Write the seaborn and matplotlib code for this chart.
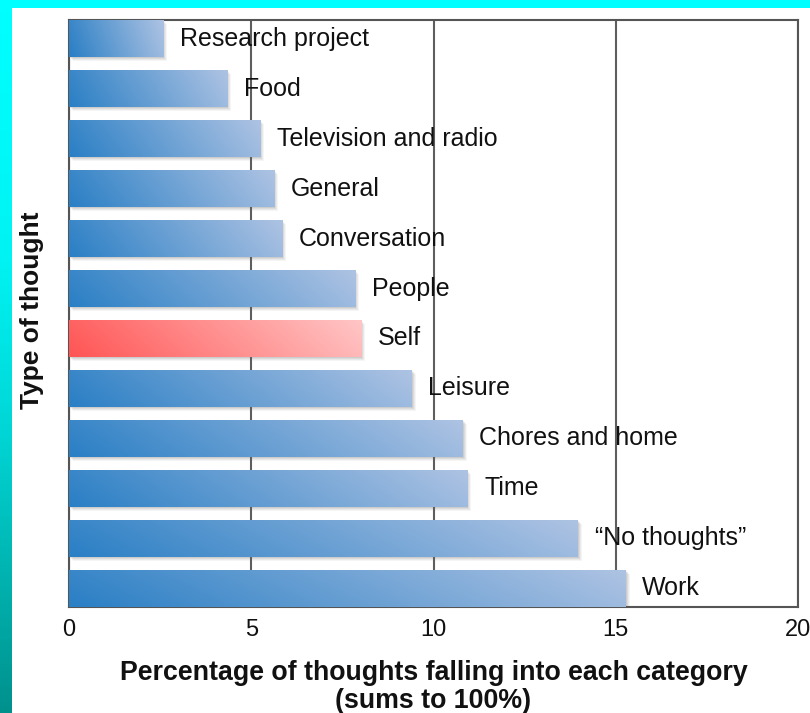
import numpy as np
import pandas as pd
import matplotlib
matplotlib.use("Agg")
import matplotlib.pyplot as plt
import seaborn as sns
import matplotlib.transforms as mtransforms
from matplotlib.colors import LinearSegmentedColormap
from matplotlib.patches import Rectangle

categories = ["Research project", "Food", "Television and radio", "General",
              "Conversation", "People", "Self", "Leisure", "Chores and home",
              "Time", "\u201cNo thoughts\u201d", "Work"]
percentages = [2.58, 4.34, 5.25, 5.63, 5.85, 7.86, 8.02, 9.40, 10.80, 10.93, 13.96, 15.27]
highlight = "Self"
x_ticks = [0, 5, 10, 15, 20]
x_label = "Percentage of thoughts falling into each category\n(sums to 100%)"
y_label = "Type of thought"

sns.set_theme(style="white")
plt.rcParams['font.family'] = ['Liberation Sans', 'DejaVu Sans']

W, H = 810, 713
fig = plt.figure(figsize=(W / 100, H / 100), dpi=100, facecolor="#00ffff")

# white panel
fig.patches.append(Rectangle((12 / W, 0), 1, (H - 8) / H, transform=fig.transFigure,
                             facecolor="white", edgecolor="none", zorder=-5))
# left gradient strip
sax = fig.add_axes([0, 0, 12 / W, 1 - 8 / H])
strip_cmap = LinearSegmentedColormap.from_list(
    "strip", [(0, "#00ffff"), (0.35, "#00f3f3"), (0.6, "#00d6d6"), (0.85, "#00aca8"), (1, "#00918d")])
sax.imshow(np.linspace(0, 1, 200).reshape(-1, 1), aspect="auto", cmap=strip_cmap)
sax.axis("off")

ax = fig.add_axes([69 / W, (H - 607) / H, (798 - 69) / W, (607 - 20) / H])
ax.set_zorder(2)
df = pd.DataFrame({"category": categories, "pct": percentages})
sns.barplot(data=df, x="pct", y="category", orient="h", width=0.75, ax=ax,
            color="#5b9bd5", zorder=3)

blue_cmap = LinearSegmentedColormap.from_list("b", ["#2a7fc5", "#aec3e3"])
red_cmap = LinearSegmentedColormap.from_list("r", ["#ff5555", "#ffc6c6"])
u = np.linspace(0, 1, 200)[None, :]
v = np.linspace(0, 1, 20)[:, None]
grad = np.clip(0.88 * u + 0.12 * (1 - v), 0, 1)

for patch, cat in zip(list(ax.patches), categories):
    x0, y0 = patch.get_x(), patch.get_y()
    w, h = patch.get_width(), patch.get_height()
    # soft shadow
    for k, a in [(4, 0.06), (3, 0.08), (2, 0.10), (1, 0.12)]:
        off = mtransforms.ScaledTranslation(k / 100, -k / 100, fig.dpi_scale_trans)
        sh = Rectangle((x0, y0), w, h, transform=ax.transData + off,
                       facecolor="#606060", edgecolor="none", alpha=a, zorder=2)
        ax.add_patch(sh)
    cmap = red_cmap if cat == highlight else blue_cmap
    im = ax.imshow(grad, cmap=cmap, aspect="auto", extent=(x0, x0 + w, y0 + h, y0),
                   origin="upper", zorder=3, interpolation="bilinear")
    im.set_clip_path(patch)
    patch.set_facecolor("none")
    patch.set_edgecolor("none")
    ax.annotate(cat, (x0 + w, y0 + h / 2), xytext=(12, 0), textcoords="offset points",
                va="center", ha="left", fontsize=18, color="#111111", zorder=5)

ax.set_xlim(0, 20)
ax.set_ylim(len(categories) - 1 + 0.375, -0.375)
ax.set_xticks(x_ticks)
ax.set_xticklabels([str(t) for t in x_ticks], fontsize=17, color="#111111")
ax.set_yticks([])
ax.tick_params(axis="x", length=0, pad=9)
ax.xaxis.grid(True, color="#5e5e5e", linewidth=1.5, zorder=1)
ax.set_axisbelow(True)
for s in ax.spines.values():
    s.set_color("#555555")
    s.set_linewidth(1.5)
ax.set_xlabel(x_label, fontsize=19.3, fontweight="bold", color="#111111", linespacing=1.12)
ax.xaxis.set_label_coords(0.5, -0.09, transform=ax.transAxes)
ax.xaxis.label.set_va("top")
ax.set_ylabel(y_label, fontsize=19, fontweight="bold", color="#111111")
ax.yaxis.set_label_coords(-0.034, 0.505)

fig.savefig("out.png", dpi=100, facecolor=fig.get_facecolor())
